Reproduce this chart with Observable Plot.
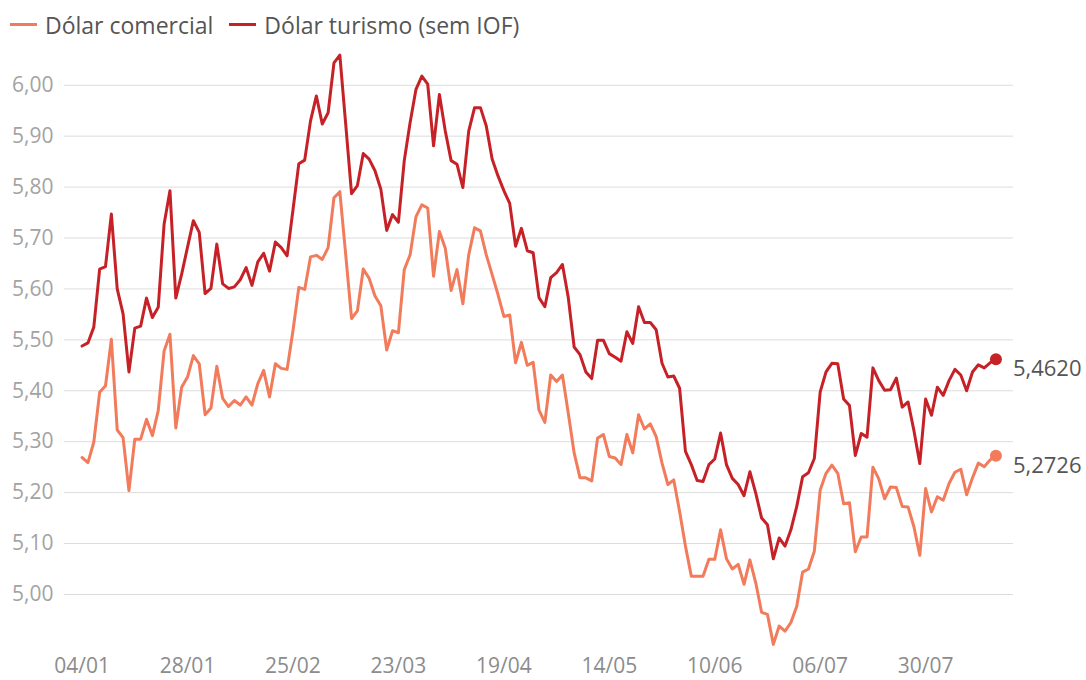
<!DOCTYPE html>
<html><head><meta charset="utf-8">
<script src="https://cdn.jsdelivr.net/npm/d3@7"></script>
<script src="https://cdn.jsdelivr.net/npm/@observablehq/plot@0.6"></script>
<style>
body{margin:0;background:#fff;font-family:"Open Sans",sans-serif;}
#legend{height:44px;display:flex;align-items:center;padding-left:10px;font-size:23px;color:#555;box-sizing:border-box;padding-top:5px;}
.item{display:flex;align-items:center;margin-right:16px;}
.sw{width:27px;height:3px;margin-right:8px;}
</style></head><body>
<div id="legend"></div>
<div id="chart"></div>
<script>
const seriesNames = ["Dólar comercial", "Dólar turismo (sem IOF)"];
const seriesColors = ["#f27b5b", "#c62127"];
const tickLabels = ["04/01","28/01","25/02","23/03","19/04","14/05","10/06","06/07","30/07"];
const tickIndex = [0,18,36,54,72,90,108,126,144];
const yTicks = [5.0,5.1,5.2,5.3,5.4,5.5,5.6,5.7,5.8,5.9,6.0];

const comercial = [
5.269,5.259,5.299,5.397,5.410,5.501,5.323,5.308,5.204,5.305,
5.305,5.344,5.312,5.361,5.478,5.511,5.327,5.407,5.427,5.469,
5.453,5.353,5.366,5.448,5.385,5.369,5.381,5.372,5.388,5.372,
5.414,5.440,5.388,5.453,5.444,5.442,5.518,5.603,5.599,5.663,
5.666,5.658,5.681,5.779,5.791,5.668,5.542,5.557,5.639,5.621,
5.586,5.567,5.480,5.518,5.514,5.638,5.667,5.742,5.765,5.759,
5.625,5.713,5.680,5.597,5.638,5.571,5.667,5.720,5.714,5.667,
5.628,5.589,5.546,5.549,5.455,5.495,5.450,5.456,5.362,5.338,
5.431,5.418,5.431,5.356,5.278,5.229,5.229,5.223,5.307,5.314,
5.271,5.268,5.255,5.314,5.278,5.353,5.325,5.335,5.310,5.258,
5.216,5.225,5.163,5.095,5.036,5.036,5.036,5.069,5.069,5.127,
5.070,5.050,5.059,5.020,5.068,5.023,4.965,4.961,4.902,4.938,
4.928,4.945,4.977,5.044,5.050,5.085,5.205,5.238,5.254,5.238,
5.178,5.180,5.084,5.113,5.113,5.250,5.227,5.188,5.211,5.210,
5.173,5.172,5.133,5.077,5.208,5.162,5.192,5.185,5.218,5.240,
5.246,5.196,5.229,5.258,5.251,5.264,5.2726];

const turismo = [
5.488,5.494,5.525,5.639,5.644,5.747,5.600,5.551,5.437,5.523,
5.527,5.582,5.544,5.564,5.727,5.793,5.582,5.629,5.682,5.734,
5.711,5.591,5.601,5.688,5.610,5.601,5.604,5.618,5.642,5.607,
5.653,5.670,5.635,5.692,5.681,5.665,5.755,5.846,5.853,5.930,
5.979,5.924,5.946,6.044,6.059,5.924,5.787,5.803,5.866,5.855,
5.832,5.796,5.715,5.746,5.731,5.852,5.927,5.992,6.018,6.002,
5.881,5.982,5.910,5.852,5.845,5.799,5.910,5.956,5.956,5.920,
5.855,5.822,5.793,5.768,5.684,5.719,5.675,5.671,5.583,5.565,
5.622,5.632,5.648,5.583,5.486,5.471,5.437,5.424,5.499,5.499,
5.473,5.466,5.458,5.516,5.493,5.565,5.534,5.534,5.520,5.454,
5.427,5.429,5.405,5.281,5.255,5.224,5.222,5.255,5.266,5.317,
5.255,5.228,5.216,5.194,5.241,5.199,5.150,5.137,5.070,5.111,
5.095,5.127,5.173,5.231,5.239,5.267,5.398,5.437,5.454,5.453,
5.384,5.371,5.273,5.316,5.309,5.445,5.420,5.401,5.402,5.425,
5.368,5.378,5.322,5.257,5.384,5.352,5.407,5.391,5.420,5.442,
5.431,5.400,5.437,5.451,5.445,5.455,5.462];

const rows = [];
comercial.forEach((v, i) => rows.push({i, v, s: seriesNames[0]}));
turismo.forEach((v, i) => rows.push({i, v, s: seriesNames[1]}));
const last = [
  {i: comercial.length - 1, v: comercial[comercial.length - 1], s: seriesNames[0]},
  {i: turismo.length - 1, v: turismo[turismo.length - 1], s: seriesNames[1]}
];
const comma = (d, n) => d.toFixed(n).replace(".", ",");
const tickLabelOf = new Map(tickIndex.map((t, k) => [t, tickLabels[k]]));

// legend
const lg = document.getElementById("legend");
seriesNames.forEach((n, k) => {
  const it = document.createElement("div"); it.className = "item";
  const sw = document.createElement("div"); sw.className = "sw"; sw.style.background = seriesColors[k];
  const tx = document.createElement("span"); tx.textContent = n;
  it.appendChild(sw); it.appendChild(tx); lg.appendChild(it);
});

const chart = Plot.plot({
  width: 1086,
  height: 636,
  marginLeft: 64,
  marginRight: 73,
  marginTop: 0,
  marginBottom: 30,
  style: {fontFamily: "Open Sans, sans-serif", fontSize: "21px", background: "#fff", overflow: "visible"},
  x: {domain: [-3, 159]},
  y: {domain: [4.89, 6.08]},
  color: {domain: seriesNames, range: seriesColors},
  marks: [
    Plot.gridY(yTicks, {stroke: "#dcdcdc", strokeOpacity: 1, strokeWidth: 1}),
    Plot.axisY({ticks: yTicks, tickSize: 0, tickPadding: 11, tickFormat: d => comma(d, 2), color: "#a3a3a3", label: null, fontSize: 21}),
    Plot.axisX({ticks: tickIndex, tickSize: 0, tickPadding: 8, tickFormat: d => tickLabelOf.get(d), color: "#8c8c8c", label: null, fontSize: 21}),
    Plot.line(rows, {x: "i", y: "v", z: "s", stroke: "s", strokeWidth: 3, strokeLinejoin: "round"}),
    Plot.dot(last, {x: "i", y: "v", fill: "s", r: 6}),
    Plot.text(last, {x: "i", y: "v", text: d => comma(d.v, 4), dx: 17, dy: 10, textAnchor: "start", fill: "#555", fontSize: 22})
  ]
});
document.getElementById("chart").appendChild(chart);
</script>
</body></html>
